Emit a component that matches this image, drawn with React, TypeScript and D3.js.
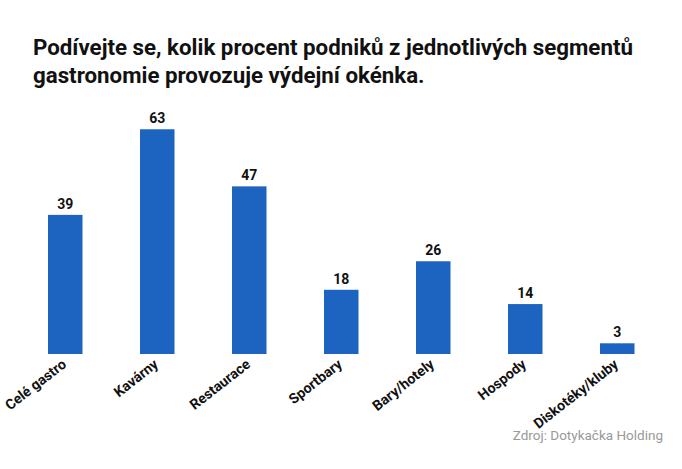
import React from 'react';
import * as d3 from 'd3';

const WIDTH = 682;
const HEIGHT = 469;

const categories = ['Celé gastro', 'Kavárny', 'Restaurace', 'Sportbary', 'Bary/hotely', 'Hospody', 'Diskotéky/kluby'];
const values = [39, 63, 47, 18, 26, 14, 3];
const titleLines = [
  'Podívejte se, kolik procent podniků z jednotlivých segmentů',
  'gastronomie provozuje výdejní okénka.',
];
const source = 'Zdroj: Dotykačka Holding';

const BAR_COLOR = '#1c64bf';
const FONT = 'Roboto, "Noto Sans", sans-serif';

const App = () => {
  const baseline = 354;

  const xScale = d3.scaleBand<string>()
    .domain(categories)
    .range([38.8, 643.7])
    .paddingInner(0.625)
    .paddingOuter(0.1);

  const yScale = d3.scaleLinear()
    .domain([0, 70])
    .range([baseline, baseline - 70 * 3.567]);

  const bw = xScale.bandwidth();

  return (
    <div style={{ position: 'absolute', left: 0, top: 0 }}>
      <svg width={WIDTH} height={HEIGHT} style={{ display: 'block', background: '#fff' }}>
        <g fontFamily={FONT} fontWeight={700} fill='#111'>
          {titleLines.map((line, i) => (
            <text key={i} x={33} y={55 + i * 28} fontSize={22.3}>{line}</text>
          ))}
        </g>
        <g>
          {categories.map((c, i) => (
            <rect
              key={c}
              x={xScale(c)}
              y={yScale(values[i])}
              width={bw}
              height={baseline - yScale(values[i])}
              fill={BAR_COLOR}
            />
          ))}
        </g>
        <g fontFamily={FONT} fontWeight={700} fontSize={14} fill='#111' textAnchor='middle'>
          {categories.map((c, i) => (
            <text key={c} x={(xScale(c) ?? 0) + bw / 2} y={yScale(values[i]) - 6}>{values[i]}</text>
          ))}
        </g>
        <g fontFamily={FONT} fontWeight={700} fontSize={14.2} fill='#111' textAnchor='end'>
          {categories.map(c => (
            <text key={c} transform={`translate(${(xScale(c) ?? 0) + bw / 2 + 2},${baseline + 12}) rotate(-38)`}>{c}</text>
          ))}
        </g>
        <text x={663} y={440} textAnchor='end' fontFamily={FONT} fontSize={13.5} fill='#999'>{source}</text>
      </svg>
    </div>
  );
};

export default App;
